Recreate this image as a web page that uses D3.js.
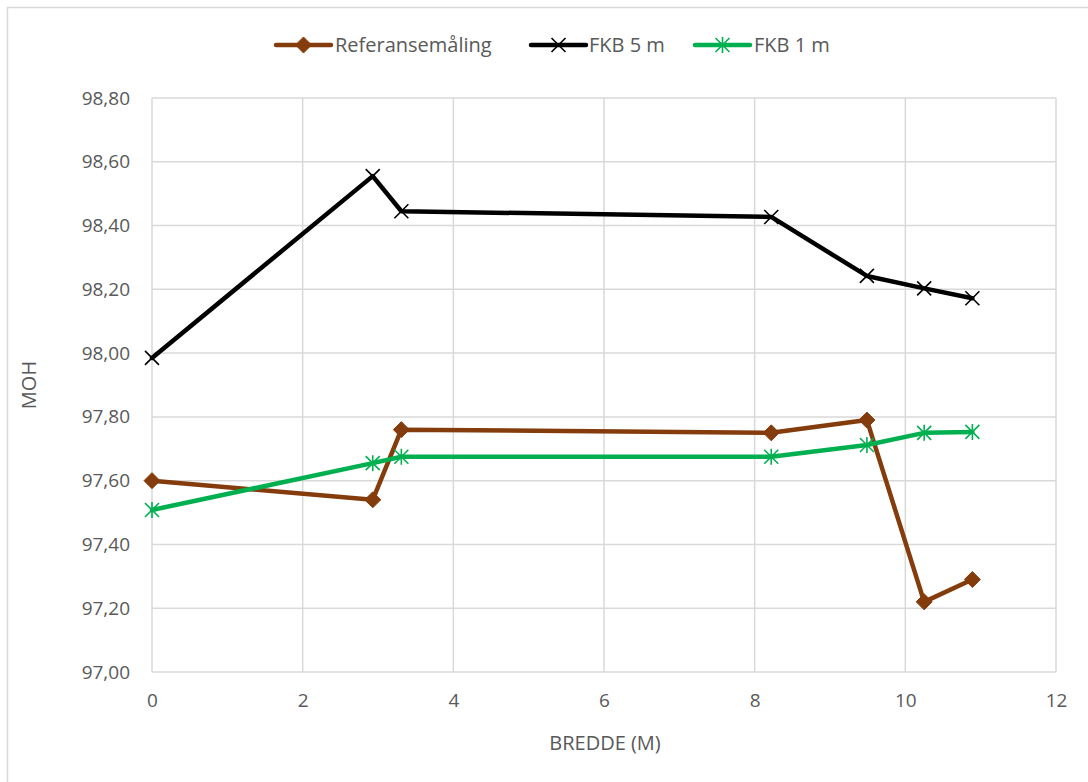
<!DOCTYPE html>
<html>
<head>
<meta charset="utf-8">
<script src="https://cdn.jsdelivr.net/npm/d3@7"></script>
<style>
  html, body { margin: 0; padding: 0; background: #fff; }
  svg { display: block; font-family: "Open Sans", "Noto Sans", sans-serif; }
</style>
</head>
<body>
<svg id="chart" width="1088" height="782"></svg>
<script>
// Cross-section widths (m) shared by all three profiles
const bredde = [0, 2.93, 3.31, 8.22, 9.49, 10.25, 10.89];

// Elevations (MOH) per profile
const referansemaling = [97.60, 97.54, 97.76, 97.75, 97.79, 97.22, 97.29];
const fkb5 = [97.985, 98.555, 98.445, 98.427, 98.242, 98.203, 98.172];
const fkb1 = [97.508, 97.655, 97.675, 97.675, 97.712, 97.750, 97.753];

const xTicks = [0, 2, 4, 6, 8, 10, 12];
const yTicks = [97.0, 97.2, 97.4, 97.6, 97.8, 98.0, 98.2, 98.4, 98.6, 98.8];

const seriesList = [
  { name: "Referansemåling", values: referansemaling, color: "#843C0C", marker: "diamond" },
  { name: "FKB 5 m", values: fkb5, color: "#000000", marker: "x" },
  { name: "FKB 1 m", values: fkb1, color: "#00B050", marker: "star" }
];

const svg = d3.select("#chart");
const margin = { left: 152, right: 1056, top: 98, bottom: 672 };
const textColor = "#595959";
const gridColor = "#D9D9D9";

// Outer chart frame
svg.append("rect")
  .attr("x", 7.5).attr("y", 7.5).attr("width", 1090).attr("height", 790)
  .attr("fill", "none").attr("stroke", gridColor).attr("stroke-width", 1.5);

const x = d3.scaleLinear().domain([0, 12]).range([margin.left, margin.right]);
const y = d3.scaleLinear().domain([97.0, 98.8]).range([margin.bottom, margin.top]);

// Gridlines
const grid = svg.append("g");
grid.selectAll("line.h").data(yTicks).join("line")
  .attr("x1", margin.left).attr("x2", margin.right)
  .attr("y1", d => y(d)).attr("y2", d => y(d))
  .attr("stroke", gridColor).attr("stroke-width", 1.5);
grid.selectAll("line.v").data(xTicks).join("line")
  .attr("y1", margin.top).attr("y2", margin.bottom)
  .attr("x1", d => x(d)).attr("x2", d => x(d))
  .attr("stroke", gridColor).attr("stroke-width", 1.5);

// Axes (labels only, Excel style)
const fmt = d => d.toFixed(2).replace(".", ",");
const yAxis = svg.append("g")
  .attr("transform", `translate(${margin.left},0)`)
  .call(d3.axisLeft(y).tickValues(yTicks).tickFormat(fmt).tickSize(0).tickPadding(22));
const xAxis = svg.append("g")
  .attr("transform", `translate(0,${margin.bottom})`)
  .call(d3.axisBottom(x).tickValues(xTicks).tickFormat(d3.format("d")).tickSize(0).tickPadding(22));
[yAxis, xAxis].forEach(a => {
  a.select(".domain").remove();
  a.selectAll("text").attr("fill", textColor).style("font-size", "19px")
    .style("font-family", '"Open Sans", "Noto Sans", sans-serif');
});

// Axis titles
svg.append("text")
  .attr("x", 605).attr("y", 750)
  .attr("text-anchor", "middle").attr("fill", textColor)
  .style("font-size", "20px").text("BREDDE (M)");
svg.append("text")
  .attr("transform", `translate(36,${(margin.top + margin.bottom) / 2}) rotate(-90)`)
  .attr("text-anchor", "middle").attr("fill", textColor)
  .style("font-size", "20px").text("MOH");

// Marker drawing
function drawMarker(g, type, color, cx, cy) {
  if (type === "diamond") {
    g.append("path")
      .attr("d", `M${cx},${cy - 8}L${cx + 8},${cy}L${cx},${cy + 8}L${cx - 8},${cy}Z`)
      .attr("fill", color).attr("stroke", color).attr("stroke-width", 1);
  } else if (type === "x") {
    const s = 7;
    g.append("path")
      .attr("d", `M${cx - s},${cy - s}L${cx + s},${cy + s}M${cx - s},${cy + s}L${cx + s},${cy - s}`)
      .attr("stroke", color).attr("stroke-width", 1.6).attr("fill", "none");
  } else {
    const s = 7;
    g.append("path")
      .attr("d", `M${cx - s},${cy - s}L${cx + s},${cy + s}M${cx - s},${cy + s}L${cx + s},${cy - s}M${cx},${cy - s - 1}L${cx},${cy + s + 1}`)
      .attr("stroke", color).attr("stroke-width", 1.6).attr("fill", "none");
  }
}

// Series lines and markers
const line = d3.line().x(d => x(d[0])).y(d => y(d[1]));
seriesList.forEach(s => {
  const pts = bredde.map((b, i) => [b, s.values[i]]);
  const g = svg.append("g");
  g.append("path").datum(pts)
    .attr("d", line).attr("fill", "none")
    .attr("stroke", s.color).attr("stroke-width", 4.5)
    .attr("stroke-linejoin", "round").attr("stroke-linecap", "round");
  pts.forEach(p => drawMarker(g, s.marker, s.color, x(p[0]), y(p[1])));
});

// Legend
const legendItems = [
  { x: 276, textX: 335 },
  { x: 531, textX: 589 },
  { x: 695, textX: 754 }
];
seriesList.forEach((s, i) => {
  const L = legendItems[i];
  const g = svg.append("g");
  g.append("line")
    .attr("x1", L.x).attr("x2", L.x + 55).attr("y1", 45).attr("y2", 45)
    .attr("stroke", s.color).attr("stroke-width", 4.5).attr("stroke-linecap", "round");
  drawMarker(g, s.marker, s.color, L.x + 27.5, 45);
  g.append("text")
    .attr("x", L.textX).attr("y", 52).attr("fill", textColor)
    .style("font-size", "20px").text(s.name);
});
</script>
</body>
</html>
